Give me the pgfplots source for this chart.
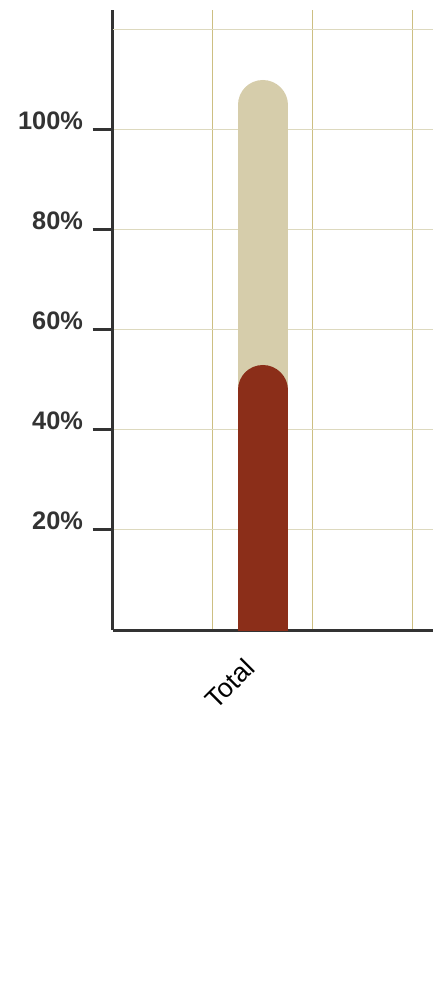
\documentclass[border=0pt]{standalone}
\usepackage{pgfplots}
\pgfplotsset{compat=1.18}
\usepackage{fontspec}
\setmainfont{Liberation Sans}
\definecolor{tanbar}{HTML}{D6CDAB}
\definecolor{rust}{HTML}{8B2E19}
\definecolor{hgrid}{HTML}{DDD9BE}
\definecolor{vgrid}{HTML}{CDBF82}
\definecolor{axisgray}{HTML}{333333}
\begin{document}
\begin{tikzpicture}
\begin{axis}[
  name=ax,
  scale only axis,
  width=240pt, height=465pt,
  xmin=0, xmax=3.2, ymin=0, ymax=124,
  axis x line=bottom, axis y line=left,
  axis line style={-, line width=2.25pt, color=axisgray},
  xtick={1,2,3}, xticklabels={},
  x tick style={draw=none},
  ytick={20,40,60,80,100},
  yticklabels={20\%,40\%,60\%,80\%,100\%},
  tick align=outside,
  major tick length=15pt,
  y tick style={axisgray, line width=2.25pt},
  yticklabel style={font=\bfseries\fontsize{19}{19}\selectfont, color=axisgray, anchor=base east, xshift=-3.75pt},
  xmajorgrids, ymajorgrids,
  x grid style={vgrid, line width=0.75pt},
  y grid style={hgrid, line width=0.75pt},
  extra y ticks={120}, extra y tick labels={},
  extra y tick style={tick style={draw=none}},
  extra x ticks={1.5}, extra x tick labels={Total},
  extra x tick style={xmajorgrids=false, tick style={draw=none},
    xticklabel style={font=\fontsize{20}{20}\selectfont, rotate=45, anchor=north east, xshift=-10.6pt, yshift=10.6pt}},
]
\addplot[tanbar, line width=37.5pt, line cap=round] coordinates {(1.5,-20) (1.5,105)};
\addplot[rust, line width=37.5pt, line cap=round] coordinates {(1.5,-20) (1.5,48)};
\end{axis}
\path[use as bounding box] ([xshift=-84.5pt,yshift=-277.5pt]ax.south west) rectangle ([xshift=6pt,yshift=7.5pt]ax.north east);
\end{tikzpicture}
\end{document}
